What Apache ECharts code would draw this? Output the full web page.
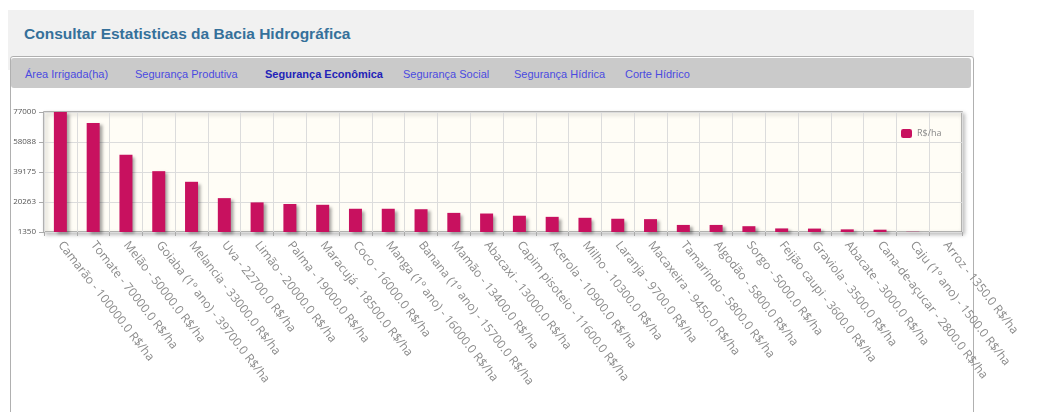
<!DOCTYPE html>
<html>
<head>
<meta charset="utf-8">
<script src="https://cdn.jsdelivr.net/npm/echarts@6/dist/echarts.min.js"></script>
<style>
  html, body { margin: 0; padding: 0; background: #fff; }
  body { width: 1049px; height: 412px; position: relative; overflow: hidden; font-family: "Liberation Sans", Arial, sans-serif; }
  #header { position: absolute; left: 8px; top: 10px; width: 966px; height: 60px; background: #f1f1f1; }
  #title { position: absolute; left: 16px; top: 15px; font-size: 15.5px; font-weight: bold; color: #35709a; }
  #panel { position: absolute; left: 10px; top: 56px; width: 962px; height: 400px; border: 1px solid #b0b0b0; border-radius: 3px; background: #fff; }
  #tabs { position: absolute; left: 11px; top: 58px; width: 960px; height: 30px; background: #cacaca; border-radius: 3px; }
  .tab { position: absolute; top: 68px; font-size: 11px; color: #4a4ae0; white-space: nowrap; }
  .tab.on { font-weight: bold; color: #2323b8; }
  #bitFig { position: absolute; left: 0; top: 90px; width: 1049px; height: 322px; }
</style>
</head>
<body>
<div id="header"><div id="title">Consultar Estatisticas da Bacia Hidrográfica</div></div>
<div id="panel"></div>
<div id="tabs"></div>
<div class="tab" style="left:25px">Área Irrigada(ha)</div>
<div class="tab" style="left:135px">Segurança Produtiva</div>
<div class="tab on" style="left:265px">Segurança Econômica</div>
<div class="tab" style="left:403px">Segurança Social</div>
<div class="tab" style="left:514px">Segurança Hídrica</div>
<div class="tab" style="left:625px">Corte Hídrico</div>
<div id="bitFig"></div>
<script>
// culturas e valores (R$/ha)
const culturas = ['Camarão', 'Tomate', 'Melão', 'Goiaba (1º ano)', 'Melancia', 'Uva', 'Limão', 'Palma',
  'Maracujá', 'Coco', 'Manga (1º ano)', 'Banana (1º ano)', 'Mamão', 'Abacaxi', 'Capim pisoteio',
  'Acerola', 'Milho', 'Laranja', 'Macaxeira', 'Tamarindo', 'Algodão', 'Sorgo', 'Feijão caupi',
  'Graviola', 'Abacate', 'Cana-de-açucar', 'Caju (1º ano)', 'Arroz']
const valores = [100000, 70000, 50000, 39700, 33000, 22700, 20000, 19000,
  18500, 16000, 16000, 15700, 13400, 13000, 11600,
  10900, 10300, 9700, 9450, 5800, 5800, 5000, 3600,
  3500, 3000, 2800, 1500, 1350]
const yTicks = [1350, 20263, 39175, 58088, 77000]
const serieNome = 'R$/ha'

let myChart = echarts.init(document.getElementById('bitFig'))

const yMin = yTicks[0]
const yMax = yTicks[yTicks.length - 1]

myChart.setOption({
  animation: false,
  textStyle: { fontFamily: '"Open Sans", sans-serif' },
  legend: {
    data: [serieNome],
    left: 896,
    top: 34,
    itemWidth: 11,
    itemHeight: 9,
    itemGap: 5,
    textStyle: { fontSize: 9, color: '#888' }
  },
  grid: {
    show: true,
    left: 44,
    right: 87,
    top: 22,
    height: 120,
    backgroundColor: '#fffdf6',
    borderColor: '#9a9a9a',
    borderWidth: 1.5,
    shadowColor: 'rgba(0,0,0,0.25)',
    shadowBlur: 4,
    shadowOffsetX: 2,
    shadowOffsetY: 2
  },
  xAxis: {
    type: 'category',
    data: culturas,
    axisLine: { show: false },
    axisTick: { show: true, length: 4, lineStyle: { color: '#aaa' } },
    splitLine: { show: true, interval: 0, lineStyle: { color: '#dcdcdc' } },
    axisLabel: {
      interval: 0,
      rotate: -52,
      margin: 11,
      fontSize: 12,
      color: '#8a8a8a',
      formatter: (name, i) => name + ' - ' + valores[i].toFixed(1) + ' R$/ha'
    }
  },
  yAxis: {
    type: 'value',
    min: yMin,
    max: yMax,
    interval: (yMax - yMin) / (yTicks.length - 1),
    axisLine: { show: false },
    axisTick: { show: true, length: 5, lineStyle: { color: '#aaa' } },
    splitLine: { lineStyle: { color: '#dcdcdc' } },
    axisLabel: {
      margin: 8,
      fontSize: 8,
      color: '#555',
      formatter: v => String(Math.round(v))
    }
  },
  series: [
    {
      name: serieNome,
      type: 'bar',
      data: valores,
      barWidth: 13,
      itemStyle: {
        color: '#c8115f',
        shadowColor: 'rgba(0,0,0,0.35)',
        shadowBlur: 3,
        shadowOffsetX: 3,
        shadowOffsetY: 2
      }
    }
  ]
})
</script>
</body>
</html>
